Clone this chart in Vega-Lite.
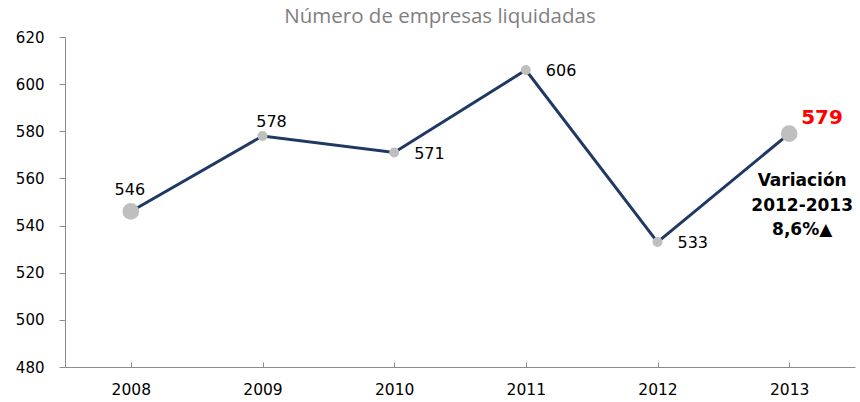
{
  "$schema": "https://vega.github.io/schema/vega-lite/v6.json",
  "autosize": "none",
  "width": 790,
  "height": 330,
  "padding": {"left": 65, "top": 37, "right": 5, "bottom": 35},
  "background": "white",
  "config": {
    "view": {"stroke": null},
    "font": "DejaVu Sans"
  },
  "title": {
    "text": "Número de empresas liquidadas",
    "fontSize": 20.5,
    "fontWeight": "normal",
    "color": "#7f7f7f",
    "font": "Open Sans",
    "anchor": "middle",
    "dx": -20,
    "offset": 3
  },
  "datasets": {
    "main": [
      {"year": "2008", "value": 546, "big": "yes"},
      {"year": "2009", "value": 578, "big": "no"},
      {"year": "2010", "value": 571, "big": "no"},
      {"year": "2011", "value": 606, "big": "no"},
      {"year": "2012", "value": 533, "big": "no"},
      {"year": "2013", "value": 579, "big": "yes"}
    ],
    "note": [
      {"year": "2013", "value": 558.7, "text": "Variación"},
      {"year": "2013", "value": 548.1, "text": "2012-2013"},
      {"year": "2013", "value": 538.1, "text": "8,6%▲"}
    ]
  },
  "data": {"name": "main"},
  "encoding": {
    "x": {
      "field": "year", "type": "ordinal",
      "scale": {"type": "point", "padding": 0.5},
      "axis": {
        "title": null, "labelAngle": 0, "labelFontSize": 15.5, "labelColor": "#000000",
        "labelFont": "DejaVu Sans", "labelPadding": 20,
        "domainColor": "#8c8c8c", "tickColor": "#8c8c8c", "tickSize": -5, "grid": false,
        "domainWidth": 1
      }
    },
    "y": {
      "field": "value", "type": "quantitative",
      "scale": {"domain": [480, 620], "nice": false, "zero": false},
      "axis": {
        "title": null, "values": [480, 500, 520, 540, 560, 580, 600, 620],
        "labelFontSize": 15, "labelColor": "#000000", "labelFont": "DejaVu Sans",
        "domainColor": "#8c8c8c", "tickColor": "#8c8c8c", "tickSize": 6, "labelPadding": 15,
        "grid": false
      }
    }
  },
  "layer": [
    {"mark": {"type": "line", "color": "#1f3864", "strokeWidth": 3}},
    {
      "mark": {"type": "point", "filled": true, "color": "#bfbfbf", "opacity": 1, "shape": "circle"},
      "encoding": {
        "size": {"field": "big", "type": "nominal", "scale": {"domain": ["yes", "no"], "range": [280, 100]}, "legend": null}
      }
    },
    {
      "transform": [{"filter": "datum.year == '2008'"}],
      "mark": {"type": "text", "fontSize": 16, "color": "#000000", "dx": -1, "dy": -21},
      "encoding": {"text": {"field": "value", "type": "quantitative"}}
    },
    {
      "transform": [{"filter": "datum.year == '2009'"}],
      "mark": {"type": "text", "fontSize": 16, "color": "#000000", "dx": 9, "dy": -14},
      "encoding": {"text": {"field": "value", "type": "quantitative"}}
    },
    {
      "transform": [{"filter": "datum.year == '2010' || datum.year == '2011' || datum.year == '2012'"}],
      "mark": {"type": "text", "fontSize": 16, "color": "#000000", "align": "left", "dx": 20, "dy": 1},
      "encoding": {"text": {"field": "value", "type": "quantitative"}}
    },
    {
      "transform": [{"filter": "datum.year == '2013'"}],
      "mark": {"type": "text", "fontSize": 20, "fontWeight": "bold", "color": "#ff0000", "align": "left", "dx": 12, "dy": -15.5},
      "encoding": {"text": {"field": "value", "type": "quantitative"}}
    },
    {
      "data": {"name": "note"},
      "mark": {"type": "text", "fontSize": 17, "fontWeight": "bold", "color": "#000000", "dx": 13},
      "encoding": {"text": {"field": "text", "type": "nominal"}}
    }
  ]
}
